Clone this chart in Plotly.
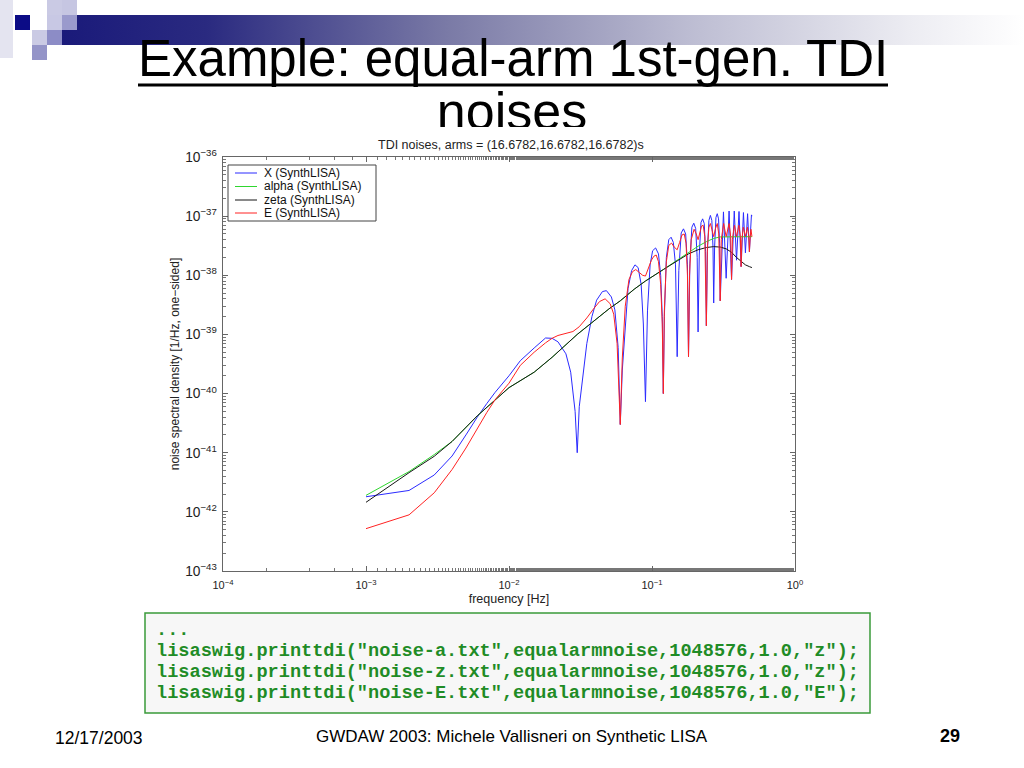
import plotly.graph_objects as go

# ---------------- data ----------------
series_names = ["X (SynthLISA)", "alpha (SynthLISA)", "zeta (SynthLISA)", "E (SynthLISA)"]
series_colors = ["#2b2bff", "#2fd62f", "#151515", "#ff2222"]

freq_X = [0.001, 0.002, 0.003, 0.004, 0.005, 0.006, 0.007, 0.008, 0.010, 0.012, 0.015, 0.018,
          0.020, 0.022, 0.025, 0.027, 0.029, 0.030, 0.031, 0.033, 0.035, 0.038, 0.041, 0.045,
          0.048, 0.052, 0.055, 0.058, 0.060, 0.062, 0.065, 0.068, 0.072, 0.076, 0.080, 0.084,
          0.087, 0.090, 0.093, 0.097, 0.101, 0.106, 0.111, 0.115, 0.118, 0.120, 0.122, 0.126,
          0.131, 0.136, 0.141, 0.146, 0.150, 0.154, 0.160, 0.166, 0.172, 0.177, 0.180, 0.184,
          0.190, 0.196, 0.202, 0.207, 0.210, 0.214, 0.220, 0.226, 0.232, 0.237, 0.240, 0.244,
          0.250, 0.256, 0.262, 0.267, 0.270, 0.274, 0.280, 0.286, 0.292, 0.297, 0.300, 0.316,
          0.330, 0.346, 0.360, 0.376, 0.390, 0.406, 0.420, 0.436, 0.450, 0.466, 0.480, 0.496,
          0.500]
psd_X = [1.8e-42, 2.3e-42, 4.2e-42, 8.8e-42, 2.0e-41, 4.0e-41, 6.8e-41, 1.05e-40, 2.0e-40, 3.6e-40,
         5.9e-40, 8.7e-40, 8.6e-40, 7.5e-40, 4.7e-40, 2.3e-40, 5.0e-41, 1.0e-41, 6.0e-41, 2.4e-40,
         7.0e-40, 2.0e-39, 3.8e-39, 5.3e-39, 5.5e-39, 4.3e-39, 2.6e-39, 6.0e-40, 3.0e-41, 2.5e-40,
         1.4e-39, 6.0e-39, 1.2e-38, 1.5e-38, 1.35e-38, 7.0e-39, 1.5e-39, 7.3e-41, 2.5e-39, 1.5e-38,
         2.6e-38, 2.9e-38, 2.3e-38, 1.0e-38, 2.0e-39, 1.0e-40, 2.0e-39, 2.0e-38, 4.0e-38, 4.4e-38,
         3.6e-38, 1.5e-38, 4.2e-40, 1.2e-38, 5.2e-38, 6.1e-38, 5.0e-38, 1.5e-38, 4.2e-40, 1.6e-38,
         6.5e-38, 7.6e-38, 6.2e-38, 2.0e-38, 1.1e-39, 2.2e-38, 7.8e-38, 9.0e-38, 7.5e-38, 2.5e-38,
         1.4e-39, 2.5e-38, 8.5e-38, 1.03e-37, 8.5e-38, 3.0e-38, 3.4e-39, 3.0e-38, 9.5e-38, 1.1e-37,
         9.0e-38, 3.5e-38, 3.7e-39, 1.18e-37, 8.9e-39, 1.22e-37, 8.5e-39, 1.22e-37, 1.8e-38, 1.2e-37,
         1.4e-38, 1.15e-37, 2.4e-38, 1.1e-37, 2.5e-38, 1.05e-37, 1.0e-37]

freq_alpha = [0.001, 0.002, 0.003, 0.004, 0.006, 0.008, 0.010, 0.015, 0.020, 0.030, 0.040, 0.050,
              0.060, 0.075, 0.090, 0.105, 0.120, 0.150, 0.180, 0.210, 0.240, 0.270, 0.300, 0.350,
              0.400, 0.450, 0.500]
psd_alpha = [1.9e-42, 4.8e-42, 9.3e-42, 1.55e-41, 4.2e-41, 7.9e-41, 1.26e-40, 2.3e-40, 4.1e-40,
             1.0e-39, 1.75e-39, 2.7e-39, 3.7e-39, 5.8e-39, 8.0e-39, 1.0e-38, 1.25e-38, 1.8e-38,
             2.45e-38, 3.1e-38, 3.7e-38, 4.2e-38, 4.45e-38, 4.5e-38, 4.5e-38, 4.5e-38, 4.5e-38]

freq_zeta = [0.001, 0.002, 0.003, 0.004, 0.006, 0.008, 0.010, 0.015, 0.020, 0.030, 0.040, 0.050,
             0.060, 0.075, 0.090, 0.105, 0.120, 0.150, 0.180, 0.210, 0.240, 0.270, 0.300, 0.330,
             0.360, 0.390, 0.420, 0.450, 0.480, 0.500]
psd_zeta = [1.45e-42, 4.6e-42, 8.7e-42, 1.55e-41, 4.2e-41, 7.9e-41, 1.26e-40, 2.3e-40, 4.1e-40,
            1.0e-39, 1.75e-39, 2.7e-39, 3.7e-39, 5.8e-39, 8.0e-39, 1.0e-38, 1.25e-38, 1.75e-38,
            2.3e-38, 2.7e-38, 2.95e-38, 3.05e-38, 3.0e-38, 2.8e-38, 2.45e-38, 2.0e-38, 1.7e-38,
            1.5e-38, 1.4e-38, 1.35e-38]

freq_E = [0.001, 0.002, 0.003, 0.004, 0.005, 0.006, 0.007, 0.008, 0.010, 0.012, 0.015, 0.018,
          0.020, 0.022, 0.025, 0.028, 0.031, 0.035, 0.039, 0.043, 0.047, 0.051, 0.054, 0.057,
          0.060, 0.062, 0.065, 0.069, 0.073, 0.077, 0.082, 0.086, 0.090, 0.094, 0.099, 0.103,
          0.107, 0.111, 0.115, 0.118, 0.120, 0.122, 0.126, 0.131, 0.137, 0.143, 0.150, 0.156,
          0.162, 0.168, 0.173, 0.177, 0.180, 0.183, 0.188, 0.197, 0.204, 0.210, 0.216, 0.222,
          0.228, 0.234, 0.240, 0.244, 0.250, 0.256, 0.262, 0.270, 0.278, 0.286, 0.293, 0.300,
          0.305, 0.317, 0.330, 0.346, 0.355, 0.360, 0.365, 0.377, 0.390, 0.405, 0.415, 0.420,
          0.425, 0.435, 0.450, 0.465, 0.475, 0.480, 0.486, 0.492, 0.500]
psd_E = [5.2e-43, 8.9e-43, 2.1e-42, 5.2e-42, 1.2e-41, 2.6e-41, 4.8e-41, 7.9e-41, 1.5e-40, 3.0e-40,
         5.0e-40, 7.2e-40, 8.6e-40, 9.6e-40, 1.05e-39, 1.12e-39, 1.35e-39, 1.9e-39, 2.7e-39, 3.6e-39,
         4.0e-39, 3.3e-39, 2.2e-39, 7.0e-40, 3.0e-41, 4.0e-40, 3.0e-39, 8.5e-39, 1.15e-38, 1.25e-38,
         1.1e-38, 1.0e-38, 9.7e-39, 1.25e-38, 1.8e-38, 2.1e-38, 2.2e-38, 1.7e-38, 7.0e-39, 1.5e-39,
         1.0e-40, 2.5e-39, 1.7e-38, 3.2e-38, 3.5e-38, 3.0e-38, 2.7e-38, 3.6e-38, 4.8e-38, 5.0e-38,
         3.5e-38, 1.0e-38, 4.2e-40, 1.0e-38, 4.0e-38, 6.0e-38, 5.0e-38, 4.0e-38, 5.5e-38, 6.8e-38,
         7.0e-38, 4.5e-38, 1.4e-39, 3.0e-38, 6.5e-38, 7.5e-38, 6.0e-38, 4.5e-38, 6.2e-38, 7.5e-38,
         5.0e-38, 3.7e-39, 4.0e-38, 7.5e-38, 4.5e-38, 7.5e-38, 4.5e-38, 8.5e-39, 4.0e-38, 7.0e-38,
         4.5e-38, 7.0e-38, 4.5e-38, 1.4e-38, 4.0e-38, 6.5e-38, 4.5e-38, 6.5e-38, 4.5e-38, 2.5e-38,
         4.5e-38, 6.0e-38, 4.5e-38]

x_tickvals = [1e-4, 1e-3, 1e-2, 1e-1, 1]
x_ticktext = ["10<sup>\u22124</sup>", "10<sup>\u22123</sup>", "10<sup>\u22122</sup>",
              "10<sup>\u22121</sup>", "10<sup>0</sup>"]

slide_title = "Example: equal-arm 1st-gen. TDI"
slide_title_2 = "noises"
chart_title = "TDI noises, arms = (16.6782,16.6782,16.6782)s"
x_label = "frequency [Hz]"
y_label = "noise spectral density [1/Hz, one\u2212sided]"
code_lines = ["...",
              'lisaswig.printtdi("noise-a.txt",equalarmnoise,1048576,1.0,"z");',
              'lisaswig.printtdi("noise-z.txt",equalarmnoise,1048576,1.0,"z");',
              'lisaswig.printtdi("noise-E.txt",equalarmnoise,1048576,1.0,"E");']
footer_left = "12/17/2003"
footer_mid = "GWDAW 2003: Michele Vallisneri on Synthetic LISA"
footer_right = "29"

# ---------------- layout helpers ----------------
W, H = 1024, 768
def px(x):
    return x / W
def py(y):
    return 1 - y / H

SLIDE = "Liberation Sans, Arial, sans-serif"
SANS = "Liberation Sans, Arial, Helvetica, sans-serif"
MONO = "Liberation Mono, Courier New, monospace"

fig = go.Figure()

series = [(freq_X, psd_X), (freq_alpha, psd_alpha), (freq_zeta, psd_zeta), (freq_E, psd_E)]
for (fx, fy), name, col in zip(series, series_names, series_colors):
    fig.add_trace(go.Scatter(x=fx, y=fy, mode="lines", name=name,
                             line=dict(color=col, width=1), showlegend=False,
                             xaxis="x", yaxis="y"))

# decorative gradient bar (pixel overlay axes)
fig.add_trace(go.Scatter(x=[77, 1024, 1024, 62, 62, 77, 77], y=[15, 15, 45, 45, 30, 30, 15],
                         mode="lines", fill="toself", line=dict(width=0),
                         fillgradient=dict(type="horizontal",
                                           colorscale=[[0, "#1a1a7a"], [0.15, "#2a2a80"],
                                                       [0.4, "#7a7aa6"], [0.65, "#bcbcd2"],
                                                       [0.88, "#ececf2"], [1, "#ffffff"]]),
                         hoverinfo="skip", showlegend=False, xaxis="x2", yaxis="y2"))
# second title line (clipped by the chart picture)
fig.add_trace(go.Scatter(x=[512], y=[116], mode="text", text=[slide_title_2],
                         textfont=dict(family=SLIDE, size=52, color="#000000"),
                         textposition="middle center", hoverinfo="skip", showlegend=False,
                         xaxis="x2", yaxis="y2"))

axis_common = dict(type="log", showgrid=False, zeroline=False, showline=True,
                   linecolor="#666666", linewidth=1, mirror="ticks", ticks="inside",
                   ticklen=5, tickcolor="#666666", exponentformat="power",
                   tickfont=dict(family=SANS, size=11, color="#222222"),
                   minor=dict(ticks="inside", ticklen=3, tickcolor="#777777"))

shapes = []
annotations = []

# squares at top-left
sq = [(0, 0, 13, 58, "#e4e4f0"), (15, 15, 30, 30, "#0c0c86"), (47, 0, 62, 15, "#cacae4"),
      (62, 0, 77, 15, "#c6c6e2"), (47, 15, 62, 30, "#c8c8e4"), (62, 15, 77, 30, "#9a9acc"),
      (32, 30, 47, 45, "#cacae4"), (47, 30, 62, 45, "#8c8cc6"), (32, 45, 47, 60, "#9494c8")]
for x0, y0, x1, y1, c in sq:
    shapes.append(dict(type="rect", xref="paper", yref="paper", x0=px(x0), x1=px(x1),
                       y0=py(y0), y1=py(y1), fillcolor=c, line=dict(width=0), layer="below"))

# title underline
shapes.append(dict(type="line", xref="paper", yref="paper", x0=px(138), x1=px(888),
                   y0=py(85), y1=py(85), line=dict(color="#000000", width=3)))
# white cover clipping "noises"
shapes.append(dict(type="rect", xref="paper", yref="paper", x0=px(380), x1=px(650),
                   y0=py(127), y1=py(140), fillcolor="#ffffff", line=dict(width=0), layer="above"))

# legend box
shapes.append(dict(type="rect", xref="paper", yref="paper", x0=px(228), x1=px(376),
                   y0=py(165), y1=py(221), fillcolor="#ffffff",
                   line=dict(color="#444444", width=1), layer="above"))
leg_y = [173, 186.5, 200, 213]
for name, col, yy in zip(series_names, series_colors, leg_y):
    shapes.append(dict(type="line", xref="paper", yref="paper", x0=px(235), x1=px(257),
                       y0=py(yy), y1=py(yy), line=dict(color=col, width=1), layer="above"))
    annotations.append(dict(text=name, xref="paper", yref="paper", x=px(262), y=py(yy),
                            xanchor="left", yanchor="middle", showarrow=False,
                            font=dict(family=SANS, size=12, color="#111111")))

# code box
shapes.append(dict(type="rect", xref="paper", yref="paper", x0=px(145), x1=px(870),
                   y0=py(613), y1=py(713), fillcolor="#f7f7f7",
                   line=dict(color="#3a9a3a", width=1.5), layer="below"))
for line, yy in zip(code_lines, [630, 651, 672, 693]):
    annotations.append(dict(text="<b>" + line + "</b>", xref="paper", yref="paper",
                            x=px(154), y=py(yy), xanchor="left", yanchor="middle",
                            showarrow=False,
                            font=dict(family=MONO, size=18.6, color="#1f8c26")))

# slide title
annotations.append(dict(text=slide_title, xref="paper", yref="paper", x=px(513), y=py(58),
                        xanchor="center", yanchor="middle", showarrow=False,
                        font=dict(family=SLIDE, size=51, color="#000000")))
# chart title
annotations.append(dict(text=chart_title, xref="paper", yref="paper", x=px(511), y=py(145),
                        xanchor="center", yanchor="middle", showarrow=False,
                        font=dict(family=SANS, size=12.5, color="#222222")))
# footer
annotations.append(dict(text=footer_left, xref="paper", yref="paper", x=px(53), y=py(738),
                        xanchor="left", yanchor="middle", showarrow=False,
                        font=dict(family=SLIDE, size=17.5, color="#000000")))
annotations.append(dict(text=footer_mid, xref="paper", yref="paper", x=px(512), y=py(736),
                        xanchor="center", yanchor="middle", showarrow=False,
                        font=dict(family=SLIDE, size=17, color="#000000")))
annotations.append(dict(text="<b>" + footer_right + "</b>", xref="paper", yref="paper",
                        x=px(950), y=py(736), xanchor="center", yanchor="middle",
                        showarrow=False, font=dict(family=SLIDE, size=18, color="#000000")))

fig.update_layout(
    width=W, height=H,
    margin=dict(l=0, r=0, t=0, b=0, autoexpand=False),
    paper_bgcolor="#ffffff", plot_bgcolor="rgba(0,0,0,0)",
    showlegend=False,
    xaxis=dict(axis_common, range=[-4, 0], domain=[px(223), px(795)], anchor="y",
               tickvals=x_tickvals, ticktext=x_ticktext, ticklabelstandoff=4,
               title=dict(text=x_label, standoff=4,
                          font=dict(family=SANS, size=12.5, color="#222222"))),
    yaxis=dict(axis_common, range=[-43, -36], domain=[py(571), py(157)], anchor="x",
               dtick=1, ticklabelstandoff=3,
               title=dict(text=y_label, standoff=2,
                          font=dict(family=SANS, size=12, color="#222222"))),
    xaxis2=dict(domain=[0, 1], range=[0, W], visible=False, anchor="y2", fixedrange=True),
    yaxis2=dict(domain=[0, 1], range=[H, 0], visible=False, anchor="x2", fixedrange=True),
    shapes=shapes, annotations=annotations,
)

fig.write_html("out.html", config={"displayModeBar": False},
               post_script="document.body.style.margin='0';document.body.style.overflow='hidden';")
